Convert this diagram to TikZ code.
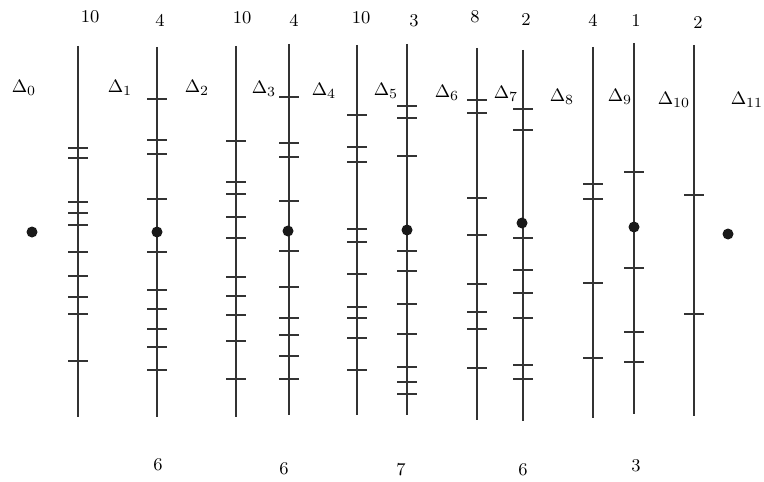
\documentclass[tikz,border=0pt]{standalone}
\usepackage{amsmath}
\usepackage{tikz}
\usetikzlibrary{positioning,calc}
\tikzset{
	rod/.style={line width=1pt, draw=black!80},
	tck/.style={line width=1.3pt, draw=black!80},
	cnt/.style={font=\fontsize{9}{11}\selectfont, inner sep=1pt},
	gap/.style={font=\fontsize{9.5}{11}\selectfont, inner sep=1pt},
	pt/.style={circle, fill=black!90, inner sep=0pt, minimum size=5.5pt},
}

\begin{document}
\begin{tikzpicture}[x=0.5pt, y=-0.5pt]
	\useasboundingbox (0,0) rectangle (764,481);
	% rods with their ticks: x / top / bottom / tick heights
	\foreach \x/\t/\b/\ys [count=\i] in {
			78/46/417/{148,158,202,213,225,252,276,297,314,361},
			157/47/417/{99,140,154,199,252,290,309,329,347,370},
			236/46/417/{141,182,194,217,238,277,296,315,341,379},
			289/44/415/{97,143,157,201,251,287,318,335,356,379},
			357/45/415/{115,147,162,229,242,274,307,318,338,370},
			407/44/415/{106,118,156,251,271,304,334,367,382,394},
			477/48/420/{100,113,198,235,284,312,329,368},
			523/50/421/{109,130,238,270,293,318,365,379},
			593/47/418/{184,199,283,358},
			634/43/414/{172,268,332,362},
			694/45/416/{195,314}} {
		\coordinate (rod\i-top) at (\x,\t);
		\coordinate (rod\i-bot) at (\x,\b);
		\draw[rod] (rod\i-top) -- (rod\i-bot);
		\foreach \y in \ys
			\draw[tck] (\x-10,\y) -- (\x+10,\y);
	}
	% counts above
	\node[cnt] at (90,17) (a1) {10};
	\node[cnt] at (160,20) (a2) {4};
	\node[cnt] at (242,18) (a3) {10};
	\node[cnt] at (294,20) (a4) {4};
	\node[cnt] at (361,18) (a5) {10};
	\node[cnt] at (414,21) (a6) {3};
	\node[cnt] at (475,17) (a7) {8};
	\node[cnt] at (526,20) (a8) {2};
	\node[cnt] at (593,20) (a9) {4};
	\node[cnt] at (636,21) (a10) {1};
	\node[cnt] at (698,23) (a11) {2};
	% gaps
	\node[gap] at (24,88) (g0) {$\Delta_0$};
	\node[gap] at (120,88) (g1) {$\Delta_1$};
	\node[gap] at (197,88) (g2) {$\Delta_2$};
	\node[gap] at (264,89) (g3) {$\Delta_3$};
	\node[gap] at (324,91) (g4) {$\Delta_4$};
	\node[gap] at (386,91) (g5) {$\Delta_5$};
	\node[gap] at (447,93) (g6) {$\Delta_6$};
	\node[gap] at (506,94) (g7) {$\Delta_7$};
	\node[gap] at (562,97) (g8) {$\Delta_8$};
	\node[gap] at (620,97) (g9) {$\Delta_9$};
	\node[gap] at (674,100) (g10) {$\Delta_{10}$};
	\node[gap] at (747,100) (g11) {$\Delta_{11}$};
	% points
	\node[pt] at (32,232) (p0) {};
	\node[pt] at (157,232) (p1) {};
	\node[pt] at (288,231) (p2) {};
	\node[pt] at (407,230) (p3) {};
	\node[pt] at (522,223) (p4) {};
	\node[pt] at (634,227) (p5) {};
	\node[pt] at (728,234) (p6) {};
	% counts below
	\node[cnt] at (158,465) (b1) {6};
	\node[cnt] at (284,469) (b2) {6};
	\node[cnt] at (401,470) (b3) {7};
	\node[cnt] at (523,470) (b4) {6};
	\node[cnt] at (636,466) (b5) {3};
\end{tikzpicture}
\end{document}
